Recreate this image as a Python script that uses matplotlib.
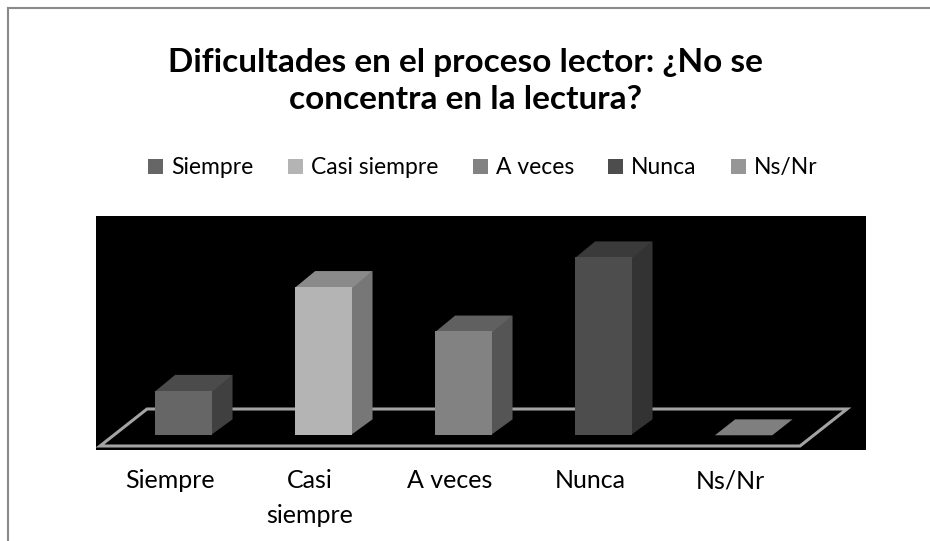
import matplotlib
matplotlib.use("Agg")
import matplotlib.pyplot as plt
from matplotlib.patches import Polygon, Patch
from matplotlib.lines import Line2D

categories = ["Siempre", "Casi siempre", "A veces", "Nunca", "Ns/Nr"]
tick_labels = ["Siempre", "Casi\nsiempre", "A veces", "Nunca", "Ns/Nr"]
values = [3, 10, 7, 12, 0]
front_colors = ["#666666", "#b4b4b4", "#828282", "#4d4d4d", "#969696"]
top_colors = ["#4b4b4b", "#8a8a8a", "#606060", "#3a3a3a", "#808080"]
side_colors = ["#404040", "#777777", "#555555", "#333333", "#6a6a6a"]
title = "Dificultades en el proceso lector: ¿No se\nconcentra en la lectura?"

FONT = "Lato"
plt.rcParams['font.family'] = [FONT, 'DejaVu Sans']

W, H = 930, 541
fig = plt.figure(figsize=(W / 100, H / 100), dpi=100)
fig.patch.set_facecolor("white")

# outer chart frame (top and left edges visible)
fig.add_artist(Line2D([8 / W, 1.0], [1 - 8 / H, 1 - 8 / H], color="#8a8a8a", lw=1.5))
fig.add_artist(Line2D([8 / W, 8 / W], [0, 1 - 8 / H], color="#8a8a8a", lw=1.5))

ax = fig.add_axes([96 / W, 1 - 450 / H, 770 / W, 234 / H])
ax.set_facecolor("black")
for s in ax.spines.values():
    s.set_visible(False)

px_x = 140.0     # pixels per category
px_y = 14.83     # pixels per value unit
DX = 47 / px_x   # full floor depth in data units
DY = 37 / px_y
f0, d = 0.29, 0.43   # bar front depth fraction, bar depth fraction
bw = 0.41

ax.set_xlim(-0.5 - 4 / px_x, -0.5 + (866 - 100) / px_x)
ax.set_ylim(-4 / px_y, (446 - 216) / px_y)

n = len(categories)
floor = Polygon([(-0.5, 0), (n - 0.5, 0), (n - 0.5 + DX, DY), (-0.5 + DX, DY)],
                closed=True, fill=False, edgecolor="#a3a3a3", lw=2.2, zorder=1)
ax.add_patch(floor)

eps = 0.012
for i, v in enumerate(values):
    xc = i + f0 * DX
    base = f0 * DY
    xl, xr = xc - bw / 2, xc + bw / 2
    top = base + v
    ox, oy = d * DX, d * DY
    if v > 0:
        ax.add_patch(Polygon([(xr - eps, base), (xr + ox, base + oy), (xr + ox, top + oy), (xr - eps, top)],
                             closed=True, facecolor=side_colors[i], edgecolor="none", zorder=2))
        ax.add_patch(Polygon([(xl, top - 0.05), (xr, top - 0.05), (xr + ox, top + oy), (xl + ox, top + oy)],
                             closed=True, facecolor=top_colors[i], edgecolor="none", zorder=2))
        ax.bar(xc, v, width=bw, bottom=base, color=front_colors[i], zorder=3, linewidth=0)
    else:
        ax.add_patch(Polygon([(xl, top), (xr, top), (xr + ox, top + oy), (xl + ox, top + oy)],
                             closed=True, facecolor="#7f7f7f", edgecolor="none", zorder=3))

ax.set_xticks(range(n))
ax.set_xticklabels(tick_labels, fontsize=18, color="black", linespacing=1.6)
ax.tick_params(axis="x", length=0, pad=14)
ax.set_yticks([])

fig.text(0.5, 1 - 81 / H, title, ha="center", va="center", fontsize=24,
         fontweight="bold", color="black", linespacing=1.3)

handles = [Patch(facecolor=c, edgecolor="none") for c in front_colors]
fig.legend(handles, categories, loc="center", bbox_to_anchor=(483 / W, 1 - 168 / H),
           ncol=n, frameon=False, fontsize=16.5, handlelength=0.65, handleheight=0.65,
           handletextpad=0.35, columnspacing=1.5)

fig.savefig("out.png", dpi=100, facecolor="white")
